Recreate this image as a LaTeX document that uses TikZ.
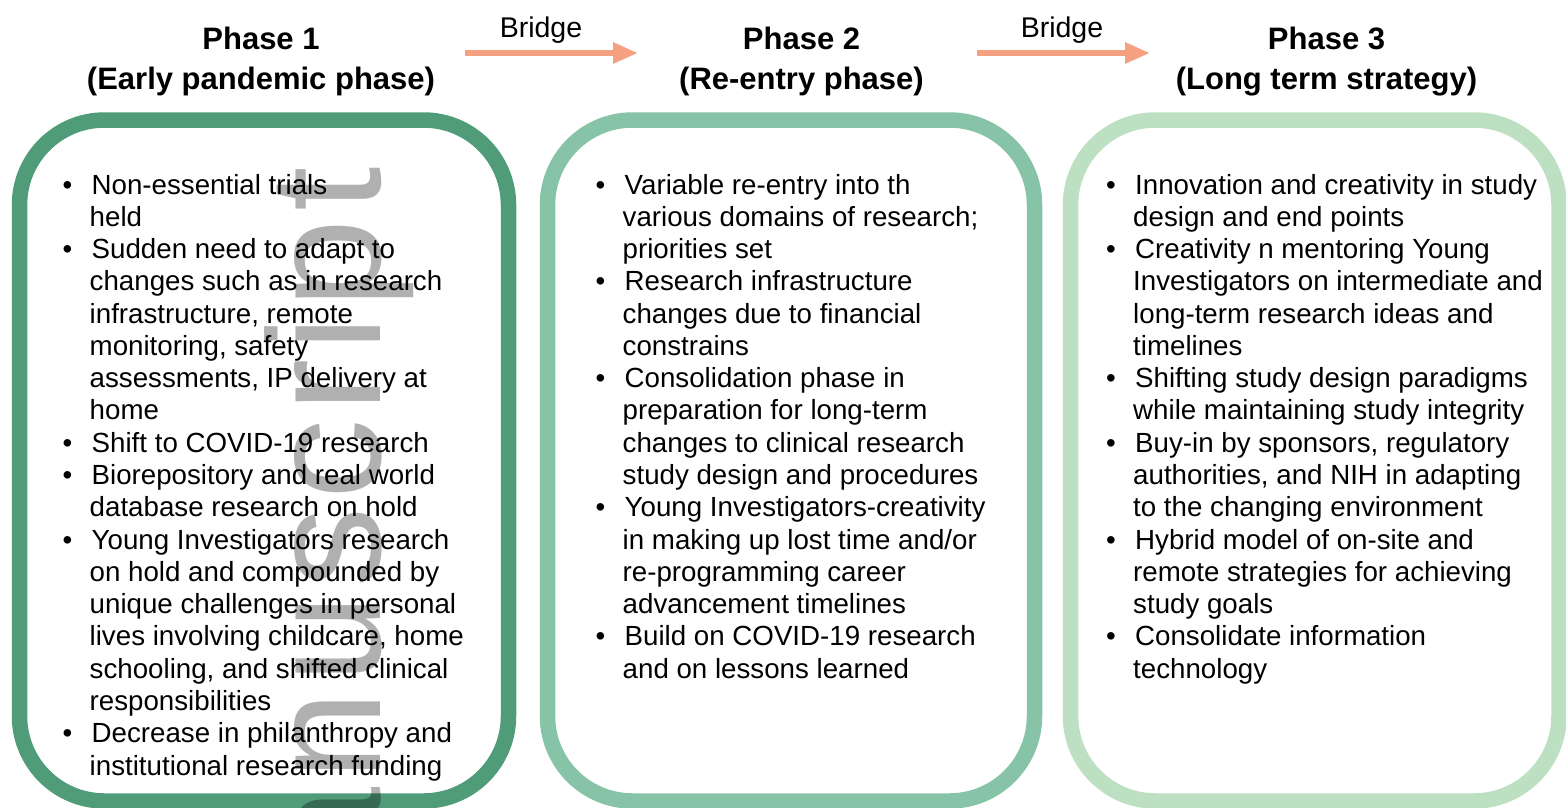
\documentclass[tikz,border=0pt]{standalone}
\usepackage{fontspec}
\setmainfont{Liberation Sans}
\usetikzlibrary{arrows.meta}
\definecolor{gA}{HTML}{509B78}
\definecolor{gB}{HTML}{86C3A7}
\definecolor{gC}{HTML}{BDE0C3}
\definecolor{salmon}{HTML}{F4A081}
\definecolor{wmgray}{HTML}{B0B0B0}
\newcommand{\bul}{\makebox[29pt][l]{•}}
\newcommand{\ind}{\hspace*{27pt}}
\newcommand{\wk}{\kern7.5pt}
\begin{document}
\begin{tikzpicture}[x=1pt,y=-1pt,
  boxstyle/.style={line width=15.5pt, rounded corners=85pt},
  titlestyle/.style={font=\fontsize{31}{39}\selectfont\bfseries, inner sep=0pt, anchor=base},
  bodystyle/.style={inner sep=0pt, anchor=base west, font=\fontsize{27.7}{32.28}\selectfont},
  bridgelabel/.style={font=\fontsize{28.5}{34}\selectfont, inner sep=0pt, anchor=base},
  bridgearrow/.style={draw=salmon, line width=6pt, -{Triangle[length=25pt,width=20pt]}},
  wmstyle/.style={font=\fontsize{160}{160}\selectfont, text=wmgray, inner sep=0pt, rotate=90, anchor=base east}]
\useasboundingbox (0,0) rectangle (1566,808);
% boxes
\draw[boxstyle, draw=gA] (19.5,120) rectangle (508.5,801);
\draw[boxstyle, draw=gB] (547.5,120) rectangle (1034.5,801);
\draw[boxstyle, draw=gC] (1070.5,120) rectangle (1559,801);
% watermark
\begin{scope}[blend mode=multiply]
\node[wmstyle] (wm) at (380,167) {M\wk a\wk n\wk u\wk s\wk c\wk r\wk i\wk p\wk t};
\end{scope}
% titles
\node[titlestyle] (p1a) at (261,50) {Phase 1};
\node[titlestyle] (p1b) at (261,89) {(Early pandemic phase)};
\node[titlestyle] (p2a) at (801.5,50) {Phase 2};
\node[titlestyle] (p2b) at (801.5,89) {(Re-entry phase)};
\node[titlestyle] (p3a) at (1326.5,50) {Phase 3};
\node[titlestyle] (p3b) at (1326.5,89) {(Long term strategy)};
% bridges
\node[bridgelabel] (br1) at (541,38) {Bridge};
\node[bridgelabel] (br2) at (1062,38) {Bridge};
\coordinate (b1s) at (465,53);
\coordinate (b1e) at (638,53);
\coordinate (b2s) at (977,53);
\coordinate (b2e) at (1150,53);
\draw[bridgearrow] (b1s) -- (b1e);
\draw[bridgearrow] (b2s) -- (b2e);
% body texts
\node[bodystyle] (t1) at (62.5,194) {\parbox[t]{480pt}{\raggedright
\bul Non-essential trials\\
\ind held\\
\bul Sudden need to adapt to\\
\ind changes such as in research\\
\ind infrastructure, remote\\
\ind monitoring, safety\\
\ind assessments, IP delivery at\\
\ind home\\
\bul Shift to COVID-19 research\\
\bul Biorepository and real world\\
\ind database research on hold\\
\bul Young Investigators research\\
\ind on hold and compounded by\\
\ind unique challenges in personal\\
\ind lives involving childcare, home\\
\ind schooling, and shifted clinical\\
\ind responsibilities\\
\bul Decrease in philanthropy and\\
\ind institutional research funding}};
\node[bodystyle] (t2) at (595.5,194) {\parbox[t]{480pt}{\raggedright
\bul Variable re-entry into th\\
\ind various domains of research;\\
\ind priorities set\\
\bul Research infrastructure\\
\ind changes due to financial\\
\ind constrains\\
\bul Consolidation phase in\\
\ind preparation for long-term\\
\ind changes to clinical research\\
\ind study design and procedures\\
\bul Young Investigators-creativity\\
\ind in making up lost time and/or\\
\ind re-programming career\\
\ind advancement timelines\\
\bul Build on COVID-19 research\\
\ind and on lessons learned}};
\node[bodystyle] (t3) at (1106,194) {\parbox[t]{480pt}{\raggedright
\bul Innovation and creativity in study\\
\ind design and end points\\
\bul Creativity n mentoring Young\\
\ind Investigators on intermediate and\\
\ind long-term research ideas and\\
\ind timelines\\
\bul Shifting study design paradigms\\
\ind while maintaining study integrity\\
\bul Buy-in by sponsors, regulatory\\
\ind authorities, and NIH in adapting\\
\ind to the changing environment\\
\bul Hybrid model of on-site and\\
\ind remote strategies for achieving\\
\ind study goals\\
\bul Consolidate information\\
\ind technology}};
\end{tikzpicture}
\end{document}
